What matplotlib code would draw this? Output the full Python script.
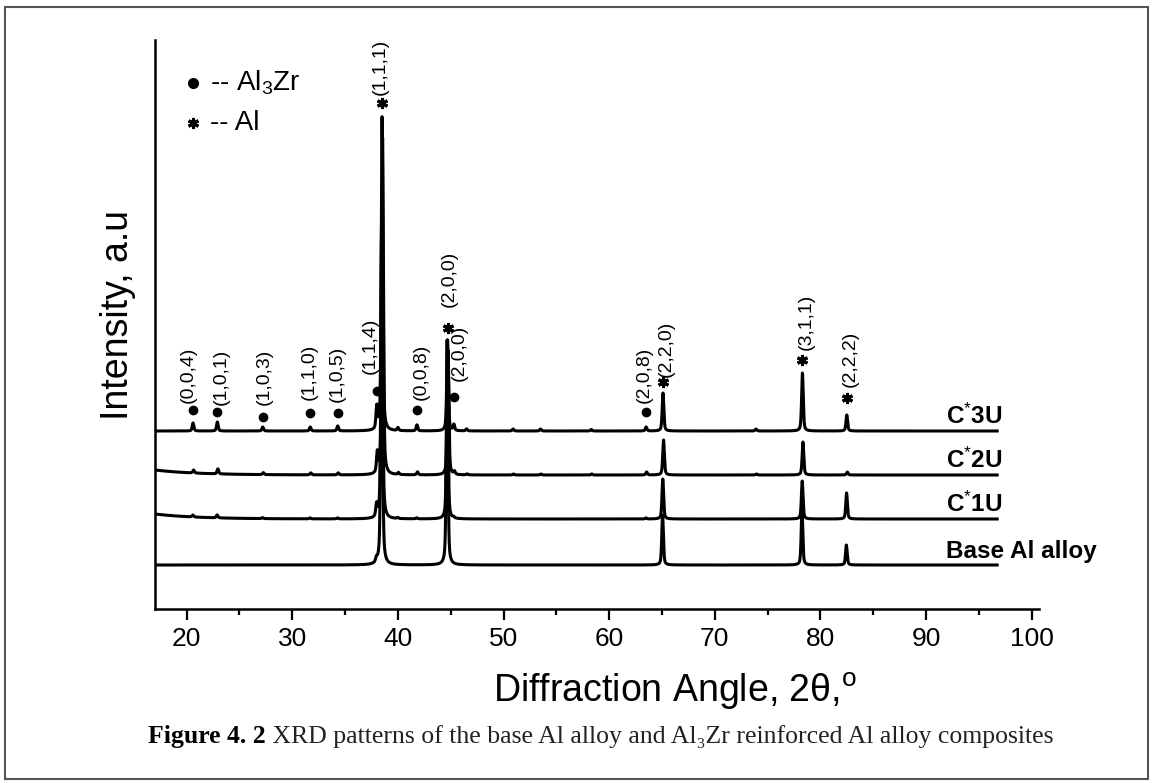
import numpy as np
import matplotlib.pyplot as plt
from matplotlib.patches import Rectangle
from matplotlib.ticker import MultipleLocator, NullLocator

plt.rcParams['font.family'] = ['Liberation Sans', 'DejaVu Sans']
plt.rcParams['mathtext.fontset'] = 'custom'
plt.rcParams['mathtext.rm'] = 'Liberation Sans'
plt.rcParams['mathtext.it'] = 'Liberation Sans:italic'
plt.rcParams['mathtext.bf'] = 'Liberation Sans:bold'

# peak positions (2theta, deg) and heights for each pattern
peak_pos = [20.6, 22.9, 27.2, 31.7, 34.3, 38.0, 38.5, 40.0, 41.8, 44.7,
            45.3, 46.5, 50.9, 53.5, 58.3, 63.5, 65.1, 73.9, 78.3, 82.5]
h_base = [0, 0, 0, 0, 0, 4, 350, 0, 0, 225, 0, 0, 0, 0, 0, 0, 50, 0, 55, 20]
h_c1u = [2, 3, 1, 1, 1, 12, 330, 1, 1, 160, 1, 0, 0, 0, 0, 1, 40, 0, 38, 26]
h_c2u = [3, 5, 2, 2, 2, 20, 337, 2, 3, 125, 3, 1, 1, 1, 1, 3, 35, 1, 33, 3]
h_c3u = [8, 9, 4, 4, 5, 22, 314, 3, 6, 91, 6, 2, 2, 2, 1.5, 4, 38, 2, 58, 16]

sample_names = ['Base Al alloy', r'C$^{*}$1U', r'C$^{*}$2U', r'C$^{*}$3U']
sample_heights = [h_base, h_c1u, h_c2u, h_c3u]
sample_offsets = [44, 90, 134, 178]
sample_shift = [-0.04, -0.02, 0.05, 0.0]
sample_bg = [0, 5, 5, 0]

# indexed reflections of the top pattern
ann_x = [20.6, 22.9, 27.2, 31.7, 34.3, 38.0, 41.8, 45.3, 63.5,
         38.5, 44.7, 65.1, 78.3, 82.5]
ann_hkl = ['(0,0,4)', '(1,0,1)', '(1,0,3)', '(1,1,0)', '(1,0,5)', '(1,1,4)',
           '(0,0,8)', '(2,0,0)', '(2,0,8)',
           '(1,1,1)', '(2,0,0)', '(2,2,0)', '(3,1,1)', '(2,2,2)']
ann_phase = ['Al3Zr'] * 9 + ['Al'] * 5

# marker gap above peak, label offset (px)
ann_gap = [13, 10, 10, 14, 13, 13, 15, 27, 15, 14, 12, 11, 13, 17]
ann_dx = [-5, 4, 2, -1, 0, -7, 4, 5, -2, -2, 2, 3, 4, 3]
ann_dy = [7, 7, 12, 13, 11, 17, 10, 16, 9, 8, 21, 5, 10, 11]

W, H = 1152, 783
fig = plt.figure(figsize=(W / 100, H / 100), dpi=100)
ax = fig.add_axes([155 / W, (H - 609) / H, (1039 - 155) / W, 569 / H])

x = np.arange(17.1, 96.75, 0.01)
hw = 0.09


def pattern(heights, shift, bg):
    y = bg * np.exp(-(x - 17.0) / 4.0)
    for p, h in zip(peak_pos, heights):
        u = (x - p - shift) / hw
        y = y + h * (0.5 * np.exp(-np.log(2) * u ** 2) + 0.5 / (1 + u ** 2))
    return y


for name, hts, off, sh, bg in zip(sample_names, sample_heights,
                                  sample_offsets, sample_shift, sample_bg):
    ax.plot(x, pattern(hts, sh, bg) + off, color='black', lw=2.2,
            solid_joinstyle='round')
    ax.text(91.9, off + 7, name, fontsize=17.5, fontweight='bold',
            ha='left', va='baseline')

top = pattern(h_c3u, 0.0, 0) + sample_offsets[3]
for px, hkl, ph, gap, dx, dy in zip(ann_x, ann_hkl, ann_phase,
                                     ann_gap, ann_dx, ann_dy):
    ytop = top[np.argmin(np.abs(x - px))]
    ym = ytop + gap
    if ph == 'Al':
        ax.plot(px, ym, marker=(6, 2, 0), ms=8, mew=2.2, color='black')
    else:
        ax.plot(px, ym, marker='o', ms=6, color='black')
    ax.annotate(hkl, xy=(px, ym), xytext=(dx, dy),
                textcoords='offset pixels', rotation=90,
                ha='center', va='bottom', fontsize=14)

# phase key
ax.plot(20.6, 526, marker='o', ms=7, color='black')
ax.text(22.2, 526, r'-- Al$_3$Zr', fontsize=20, va='center', ha='left')
ax.plot(20.6, 486, marker=(6, 2, 0), ms=8, mew=2.2, color='black')
ax.text(22.2, 486, '-- Al', fontsize=20, va='center', ha='left')

ax.set_xlim(17.0, 100.7)
ax.set_ylim(0, 569)
ax.xaxis.set_major_locator(MultipleLocator(10))
ax.xaxis.set_minor_locator(MultipleLocator(5))
ax.yaxis.set_major_locator(NullLocator())
ax.tick_params(axis='x', which='major', direction='out', length=8,
               width=1.6, labelsize=19, pad=5)
ax.tick_params(axis='x', which='minor', direction='out', length=4, width=1.6)
for s in ['top', 'right']:
    ax.spines[s].set_visible(False)
for s in ['left', 'bottom']:
    ax.spines[s].set_linewidth(1.8)

fig.text(118 / W, 1 - 315 / H, 'Intensity, a.u', rotation=90, fontsize=27,
         ha='center', va='center')
fig.text(675 / W, 1 - 691 / H, r'Diffraction Angle, 2θ,$^{\rm o}$',
         fontsize=27, ha='center', va='center')

# caption under the chart
serif = ['Liberation Serif', 'DejaVu Serif']
cap = fig.text(1053 / W, 1 - 737 / H,
               ' XRD patterns of the base Al alloy and Al₃Zr reinforced Al alloy composites',
               fontsize=18.5, family=serif, color='#222222', ha='right', va='center')
renderer = fig.canvas.get_renderer()
bb = cap.get_window_extent(renderer)
fig.text(bb.x0 / W, 1 - 737 / H, 'Figure 4. 2', fontsize=18.5, family=serif,
         fontweight='bold', ha='right', va='center')

fig.patches.append(Rectangle((5 / W, 1 - 779 / H), (1148 - 5) / W, (779 - 7) / H,
                             transform=fig.transFigure, fill=False,
                             ec='#555555', lw=1.5))

fig.savefig('out.png', dpi=100)
